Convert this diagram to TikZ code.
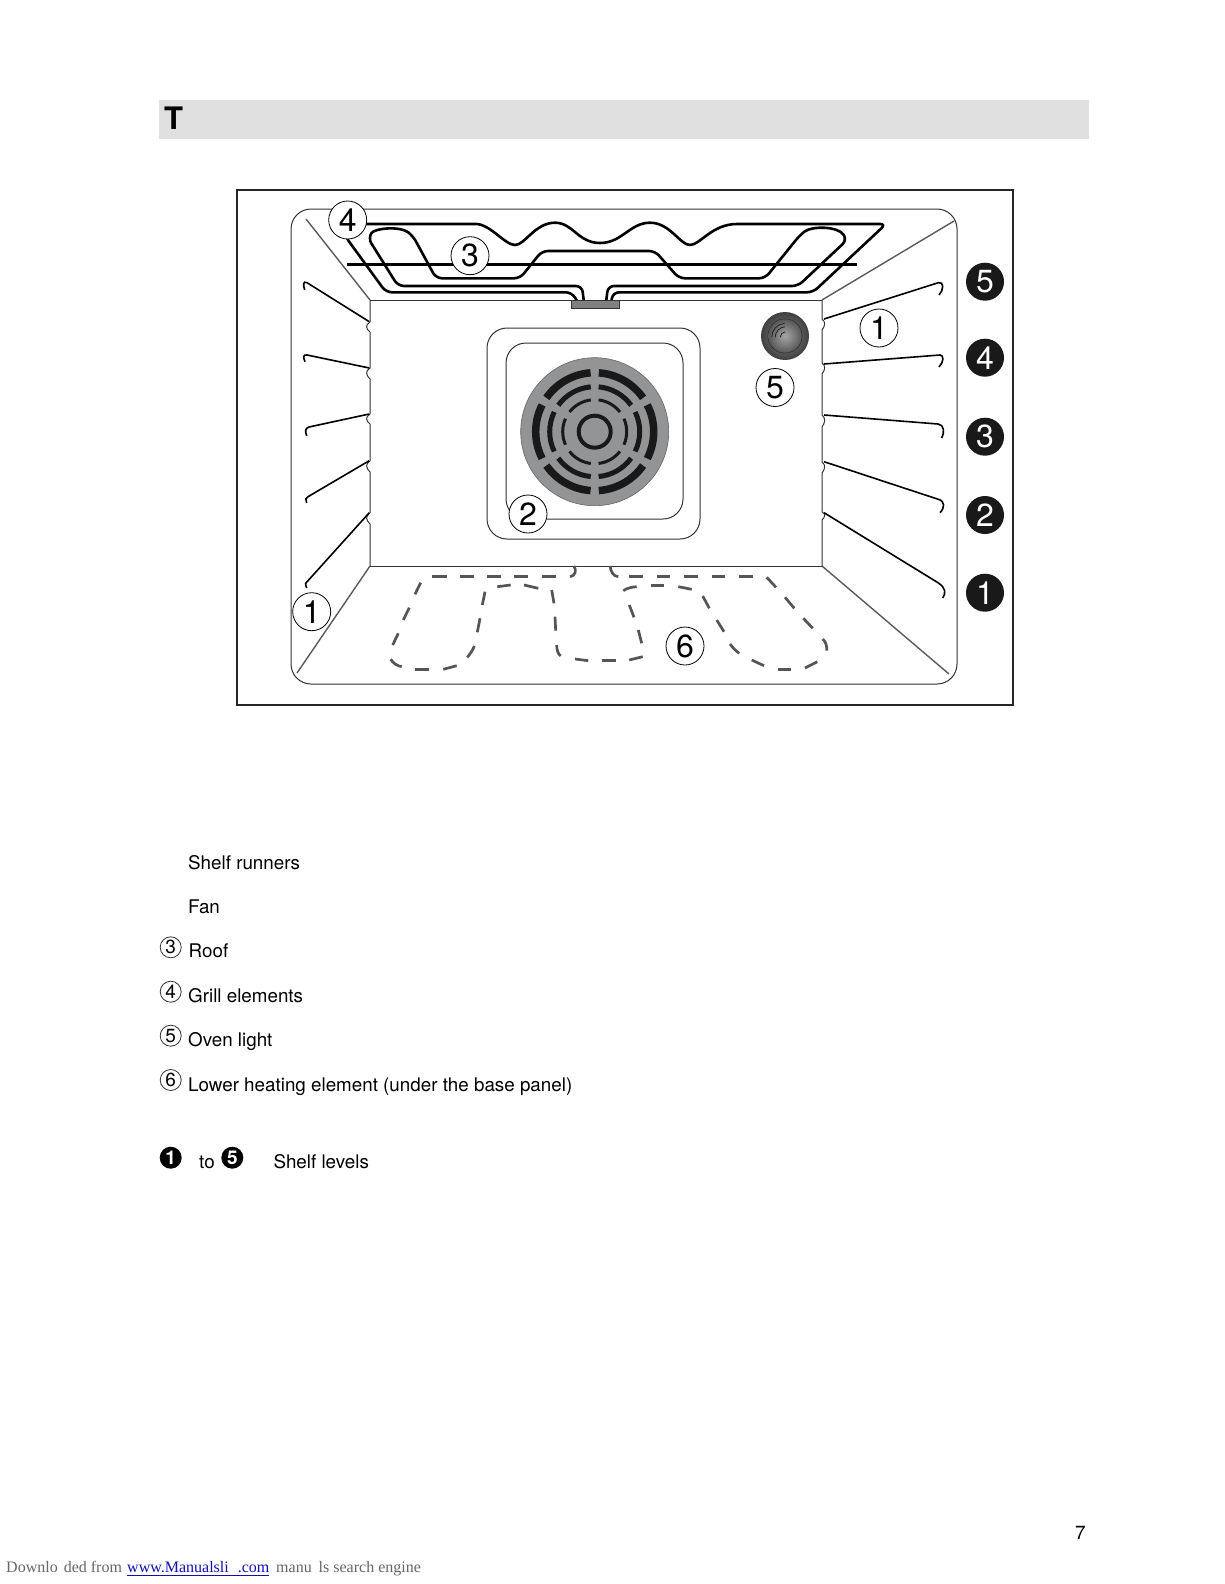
\documentclass[tikz,border=0pt]{standalone}
\usepackage{fontspec}
\setmainfont{TeX Gyre Heros}
\newfontfamily\footserif{Liberation Serif}
\definecolor{headgray}{HTML}{E0E0E0}
\definecolor{fangray}{HTML}{929496}
\definecolor{dashgray}{HTML}{555555}
\definecolor{linkblue}{HTML}{1010B0}
\tikzset{
  callout/.style={circle,draw=black,line width=0.8pt,fill=white,inner sep=0pt,minimum size=38pt,font=\fontsize{32}{32}\selectfont},
  levelmark/.style={circle,fill=black!90,text=white,inner sep=0pt,minimum size=38pt,font=\fontsize{32}{32}\selectfont},
  legendmark/.style={circle,draw=black!80,line width=0.8pt,inner sep=0pt,minimum size=21pt,font=\fontsize{19}{19}\selectfont},
  legendlevel/.style={circle,fill=black,text=white,inner sep=0pt,minimum size=22pt,font=\bfseries\fontsize{19}{19}\selectfont},
  legendtext/.style={anchor=base west,inner sep=0pt,font=\fontsize{18.8}{24}\selectfont},
  shell/.style={draw=black!80,line width=1pt},
  seam/.style={draw=black!65,line width=1.4pt},
  runner/.style={draw=black,line width=1.6pt},
  heater/.style={draw=black,line width=2.6pt,rounded corners=6pt},
  dashpiece/.style={draw=dashgray,line width=2.7pt},
}
\begin{document}
\begin{tikzpicture}[x=1pt,y=-1pt]
  \useasboundingbox (0,0) rectangle (1224,1584);
  \fill[headgray] (159,99.7) rectangle (1088.7,138.7);
  \node[anchor=base west,inner sep=0pt,font=\bfseries\fontsize{31}{31}\selectfont] (headT) at (164,129) {T};

  \draw[line width=2pt,draw=black!85] (236.5,189.5) rectangle (1012.7,705);
  \draw[shell,rounded corners=20pt] (291,209) rectangle (957,684);
  \draw[seam] (306,219) -- (370,300);
  \draw[seam] (954,221) -- (822,300);
  \draw[seam] (297,673) -- (370,566);
  \draw[seam] (949,674) -- (822,566);

  % back wall with the runner notches
  \draw[shell] (370,300) -- (822,300);
  \draw[shell] (370,566) -- (822,566);
  \draw[shell] (370,300) -- (370,322) .. controls (365,325) and (366,329) .. (370,332)
    -- (370,368) .. controls (365,371) and (366,375) .. (370,379)
    -- (370,414) .. controls (365,417) and (366,421) .. (370,424)
    -- (370,461) .. controls (365,464) and (366,468) .. (370,472)
    -- (370,513) .. controls (365,516) and (366,520) .. (370,524) -- (370,566);
  \draw[shell] (822,300) -- (822,319) .. controls (826,322) and (825,326) .. (822,330)
    -- (822,363) .. controls (826,366) and (825,370) .. (822,374)
    -- (822,415) .. controls (826,418) and (825,423) .. (822,427)
    -- (822,462) .. controls (826,465) and (825,469) .. (822,473)
    -- (822,512) .. controls (826,514) and (825,517) .. (822,520) -- (822,566);

  % left and right runners: wall, elbow, bend, hook end
  \foreach \xa/\ya/\xb/\yb/\xc/\yc/\xd/\yd in {
    369.3/321.7/307/282.7/303/280.5/304.7/290,
    369.3/368/307/355/303/354.5/305/361.7,
    369.3/414/309/427/305/428.5/306.7/436,
    369.3/460.7/308/496.7/305.5/498.5/306.7/503,
    369.3/512.7/308/580.7/305/584/306.7/588,
    824/319/938.3/282.7/944/281/939/295,
    824/364/940/355/944/355/939/367,
    824/415/938/424/944.5/424.5/941.7/438,
    824/461.7/938.3/499.3/945/501/940/512.7,
    824/512.7/938/582.7/946/588/942.7/598}
    \draw[runner] (\xa,\ya) -- (\xb,\yb) .. controls (\xc,\yc) and (\xc,{\yd-5}) .. (\xd,\yd);

  % grill elements
  \draw[heater] (578.3,303) -- (571.7,292.3) -- (386,292.3) -- (345,236) -- (352,224) -- (470,224)
    [sharp corners] .. controls (490,224) and (505,245) .. (515,245)
    .. controls (525,245) and (535,222.7) .. (555,222.7)
    .. controls (573,222.7) and (578,243) .. (600,243)
    .. controls (622,243) and (630,222.7) .. (650,222.7)
    .. controls (670,222.7) and (680,245) .. (690,245)
    .. controls (700,245) and (712,224) .. (737,224)
    [rounded corners=6pt] -- (886,224) -- (813,292.3) -- (613,292.3) -- (611,303);
  \draw[heater] (584,303) -- (582,286) -- (398,286) -- (368,238)
    .. controls (375,228) and (400,226) .. (413,236)
    -- (436,278.3) -- (520,278.3) -- (542,251) -- (655,251) -- (679,278.3) -- (765,278.3) -- (800,235)
    .. controls (812,226) and (838,226) .. (847,240)
    -- (798,286) -- (608,286) -- (606,303);
  \draw[draw=black,line width=2.6pt] (347,264.3) -- (856.7,264.3);
  \draw[draw=black!80,fill=black!50,line width=1pt] (571.7,300.7) rectangle (619.3,308.3);

  % fan
  \draw[shell,rounded corners=20pt] (487,328) rectangle (700,539);
  \draw[shell,rounded corners=20pt] (506,343) rectangle (683,519);
  \coordinate (fan) at (594.7,431.7);
  \fill[fangray] (fan) circle (74);
  \draw[black!60,line width=0.6pt] (fan) circle (74);
  \foreach \rad/\wid/\off in {59/7.5/4,45/5/5,32/3/7}
    \foreach \sa/\sb in {31/90,-31/31,-90/-31,90/149,149/211,211/270}
      \draw[black!90,line width=\wid pt] ([shift={({\sa+\off}:\rad)}]fan) arc[start angle=\sa+\off,end angle=\sb-\off,radius=\rad];
  \draw[black!90,line width=4pt] (fan) circle (16);

  % oven light
  \coordinate (lamp) at (785,336);
  \shade[inner color=black!45,outer color=black!75] (lamp) circle (24);
  \draw[black!80,line width=0.8pt] (lamp) circle (17);
  \shade[inner color=black!35,outer color=black!65] (lamp) circle (16.5);
  \foreach \rad in {14,10.5,5.5}
    \draw[black!90,line width=0.7pt] ([shift={(180:\rad)}]785.7,337.3) arc[start angle=180,end angle=265,radius=\rad];

  % lower element, piece by piece
  \foreach \xa/\ya/\xb/\yb in {
    432/576.7/447/576.7, 460/576.7/474/576.7, 487/576.7/501/576.7, 514/576.7/528/576.7, 542/576.7/556/576.7,
    420.7/582.7/415/594.3, 409.3/607.7/403.3/620, 398.3/633.3/392.7/645,
    415/669.3/429/669.3, 443.3/669.3/456.7/665.7, 477.3/632.3/480/618.3, 482.3/605/485/591.7,
    497.3/586.7/510.7/585, 524/585/538.3/588.3, 551.7/590/554/603.3, 555/616.7/555.7/630.7,
    575/659/588.3/660.7, 602.3/660.7/615.7/660.7, 629.3/660/642.7/656.7,
    641.7/643.3/638.3/630, 634/617.3/629.3/605,
    650.7/585.7/664/585.7, 678.3/586.7/691.7/589.3, 702.7/596/709.3/608.3, 716.7/620/724/631.7,
    751.7/660/764/665.7, 777.7/669.3/791/669.3, 805/668/817.3/661.7,
    812.7/628.3/803.3/618.3, 794.3/608.3/785/597.3, 776/587.3/766.7/577.3,
    752.7/576.7/739.3/576.7, 725/576.7/711.7/576.7, 697.7/576.7/684.3/576.7, 670/576.7/656.7/576.7, 642.7/576.7/629.3/576.7}
    \draw[dashpiece] (\xa,\ya) -- (\xb,\yb);
  \draw[dashpiece] (570,576.7) .. controls (575,576) and (577,571) .. (574,566);
  \draw[dashpiece] (610,566) .. controls (611,572) and (613,576) .. (618.3,576.7);
  \draw[dashpiece] (390.7,659.3) .. controls (393,663) and (397,666) .. (401.7,666.7);
  \draw[dashpiece] (467.3,657.3) .. controls (470,654) and (473,650) .. (474.3,646);
  \draw[dashpiece] (556.7,645) .. controls (556.7,650) and (558,654) .. (560.7,656);
  \draw[dashpiece] (623.3,590.7) .. controls (627,588) and (632,587) .. (636.7,586.7);
  \draw[dashpiece] (730,644) .. controls (733,648) and (736,651) .. (739.3,653.3);
  \draw[dashpiece] (826.7,650.7) .. controls (827,646) and (826,642) .. (822.7,639);

  % numbers on the picture
  \node[callout] (partFour) at (347.7,220) {4};
  \node[callout] (partThree) at (470,255.7) {3};
  \node[callout] (partOneR) at (879,328) {1};
  \node[callout] (partFive) at (775,387.5) {5};
  \node[callout] (partTwo) at (528,514) {2};
  \node[callout] (partOneL) at (311.7,611.7) {1};
  \node[callout] (partSix) at (685,646) {6};
  \node[levelmark] (levelFive) at (985,281.7) {5};
  \node[levelmark] (levelFour) at (985,357.7) {4};
  \node[levelmark] (levelThree) at (985,436.7) {3};
  \node[levelmark] (levelTwo) at (985,515) {2};
  \node[levelmark] (levelOne) at (985,592.7) {1};

  % legend
  \node[legendtext] (txtRunners) at (188,869.3) {Shelf runners};
  \node[legendtext] (txtFan) at (188,913.3) {Fan};
  \node[legendmark] (markThree) at (170.7,947.3) {3};
  \node[legendtext] (txtRoof) at (188.5,957.3) {Roof};
  \node[legendmark] (markFour) at (170.7,991.7) {4};
  \node[legendtext] (txtGrill) at (188,1002.3) {Grill elements};
  \node[legendmark] (markFive) at (170.7,1035.7) {5};
  \node[legendtext] (txtLight) at (188,1046) {Oven light};
  \node[legendmark] (markSix) at (170.7,1080) {6};
  \node[legendtext] (txtLower) at (188,1091.5) {Lower heating element (under the base panel)};
  \node[legendlevel] (markLevelA) at (170.7,1157.7) {1};
  \node[legendtext] (txtTo) at (199,1168.5) {to};
  \node[legendlevel] (markLevelB) at (232.3,1157.7) {5};
  \node[legendtext] (txtLevels) at (273.3,1168.5) {Shelf levels};

  % page foot
  \node[legendtext,font=\fontsize{19}{19}\selectfont] (pageNo) at (1075,1539) {7};
  \node[anchor=base west,inner sep=0pt,text=black!60,font=\footserif\fontsize{16}{18}\selectfont] (footA) at (6,1572) {Downlo\hspace{6pt}ded from};
  \node[anchor=base west,inner sep=0pt,text=linkblue,font=\footserif\fontsize{16}{18}\selectfont] (footB) at (127,1572) {www.Manualsli\hspace{9pt}.com};
  \draw[linkblue,line width=1pt] (127,1575) -- (269,1575);
  \node[anchor=base west,inner sep=0pt,text=black!60,font=\footserif\fontsize{16}{18}\selectfont] (footC) at (276,1572) {manu\hspace{7pt}ls search engine};
\end{tikzpicture}
\end{document}
